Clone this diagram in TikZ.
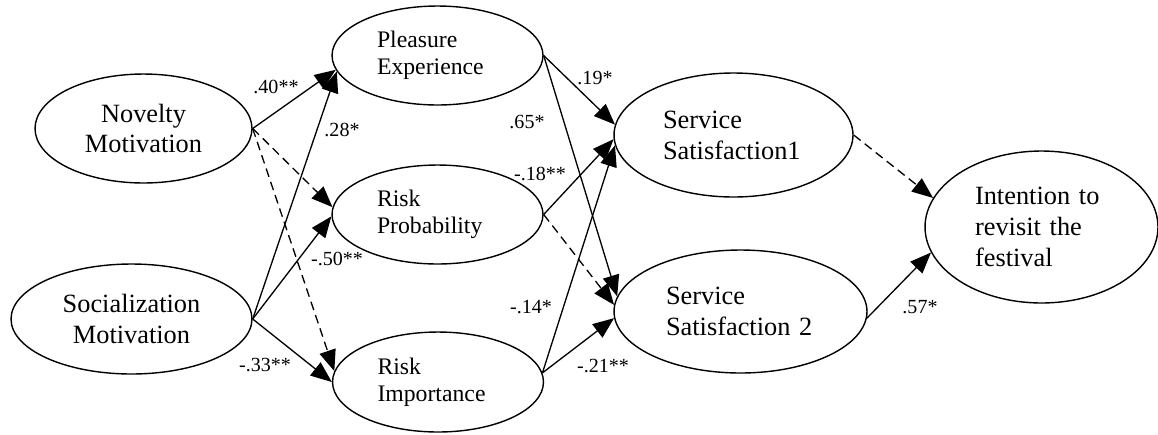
\documentclass[tikz,border=0pt]{standalone}
\usepackage{fontspec}
\setmainfont{Liberation Serif}
\usetikzlibrary{arrows.meta,shapes.geometric}

\begin{document}
\begin{tikzpicture}[x=0.02cm, y=-0.02cm,
    >={Triangle[length=12pt, width=9.5pt]},
    latent/.style={ellipse, draw, line width=0.8pt, inner sep=0pt, font=\fontsize{15}{17.6}\selectfont},
    small/.style={font=\fontsize{13.5}{15.4}\selectfont, text width=2.42cm, align=left},
    coef/.style={font=\fontsize{11.4}{13}\selectfont, inner sep=0pt},
    sig/.style={->, line width=0.75pt},
    nosig/.style={sig, dash pattern=on 5pt off 3pt}]
    \useasboundingbox (0,0) rectangle (1158,434);

    % Variables latentes
    \node[latent, align=center, minimum width=4.34cm, minimum height=2.18cm] (nov) at (143.5,128.5) {Novelty\\Motivation};
    \node[latent, align=center, minimum width=4.82cm, minimum height=2.2cm] (soc) at (131.5,319) {Socialization\\Motivation};
    \node[latent, small, minimum width=4.22cm, minimum height=1.98cm] (ple) at (437.5,55.5) {Pleasure\\Experience};
    \node[latent, small, minimum width=4.22cm, minimum height=1.98cm] (rpr) at (437.5,214.5) {Risk\\Probability};
    \node[latent, small, minimum width=4.22cm, minimum height=2.0cm] (rim) at (438,382) {Risk\\Importance};
    \node[latent, text width=2.82cm, align=left, minimum width=4.78cm, minimum height=2.48cm] (ss1) at (733.5,135) {Service\\Satisfaction1};
    \node[latent, text width=2.98cm, align=left, minimum width=5.06cm, minimum height=2.46cm] (ss2) at (740.5,311.5) {Service\\Satisfaction 2};
    \node[latent, text width=2.66cm, align=left, minimum width=4.66cm, minimum height=3.04cm] (int) at (1041.5,227) {Intention to\\revisit the\\festival};

    % Trayectorias significativas
    \foreach \a/\b in {nov.east/ple.188, soc.east/ple.189, soc.east/rpr.181, soc.east/rim.180,
        ple.east/ss1.175, ple.east/ss2.173, rpr.east/ss1.182, rim.5/ss1.185, rim.5/ss2.183, ss2.-3/int.193}
        \draw[sig] (\a) -- (\b);

    % Trayectorias no significativas
    \foreach \a/\b in {nov.east/rpr.176, nov.east/rim.174, rpr.east/ss2.177, ss1.east/int.165}
        \draw[nosig] (\a) -- (\b);

    % Coeficientes
    \foreach \n/\x/\y/\lab in {c40/276/87/.40**, c28/342/130/.28*, c50/337/259/-.50**, c33/265/365/-.33**,
        c19/595/78/.19*, c65/527/122/.65*, c18/540/174/-.18**, c14/531/307/-.14*, c21/603/366/-.21**, c57/920/307/.57*}
        \node[coef] (\n) at (\x,\y) {\lab};

\end{tikzpicture}
\end{document}
